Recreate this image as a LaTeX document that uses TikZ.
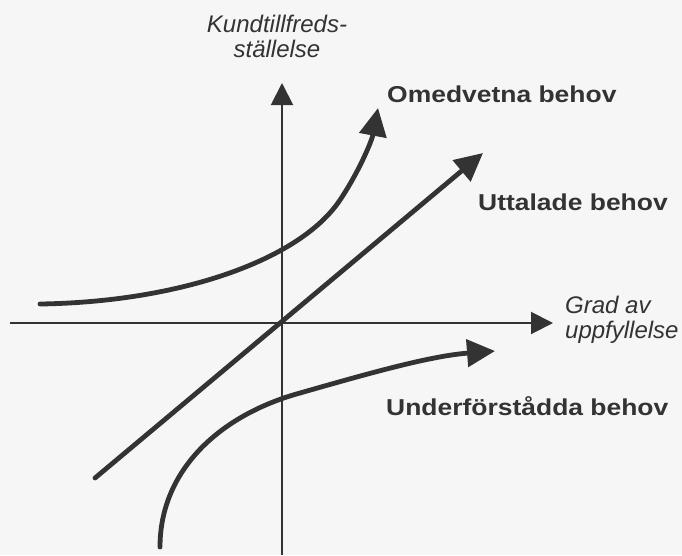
\documentclass[tikz,border=0pt]{standalone}
\usepackage{fontspec}
\usepackage{graphicx}
\setmainfont{Liberation Sans}
\usetikzlibrary{arrows.meta}
\definecolor{ink}{HTML}{333333}
\definecolor{paper}{HTML}{F6F6F6}
\begin{document}
\begin{tikzpicture}[x=1pt,y=-1pt,
  axis/.style={draw=ink,line width=2pt,-{Triangle[length=22pt,width=22pt]}},
  need/.style={draw=ink,line width=4.8pt,line cap=round,-{Triangle[length=28pt,width=27pt]}},
  axlabel/.style={font=\fontsize{24}{25}\selectfont\itshape,text=ink,inner sep=0pt},
  needlabel/.style={font=\fontsize{23}{25}\selectfont\bfseries,text=ink,inner sep=0pt,anchor=base west}]
\fill[paper] (0,0) rectangle (682,555);
\useasboundingbox (0,0) rectangle (682,555);
% axes
\coordinate (xs) at (10,323);
\coordinate (xe) at (553,323);
\coordinate (ys) at (282,555);
\coordinate (ye) at (282,83);
\draw[axis] (xs) -- (xe);
\draw[axis] (ys) -- (ye);
% curves
\coordinate (os) at (40,304);
\coordinate (om) at (340,200);
\coordinate (oe) at (378,108);
\draw[need] (os) .. controls (180,302) and (300,260) .. (om) .. controls (360,170) and (372,140) .. (oe);
\coordinate (us) at (95,478);
\coordinate (ue) at (483,153);
\draw[need] (us) -- (ue);
\coordinate (ds) at (160,547);
\coordinate (dm) at (300,393);
\coordinate (de) at (495,351);
\draw[need] (ds) .. controls (160,470) and (220,415) .. (dm) .. controls (370,373) and (430,356) .. (de);
% labels
\node[axlabel,align=center,anchor=base] (ylab) at (277,57) {Kundtillfreds-\\[0pt]ställelse};
\node[axlabel,align=left,anchor=base west] (xlab) at (565,338) {Grad av\\[0pt]uppfyllelse};
\node[needlabel] (omlab) at (387,102) {\scalebox{1.15}[1]{Omedvetna behov}};
\node[needlabel] (utlab) at (478,210) {\scalebox{1.15}[1]{Uttalade behov}};
\node[needlabel] (unlab) at (386,415) {\scalebox{1.15}[1]{Underförstådda behov}};
\end{tikzpicture}
\end{document}
